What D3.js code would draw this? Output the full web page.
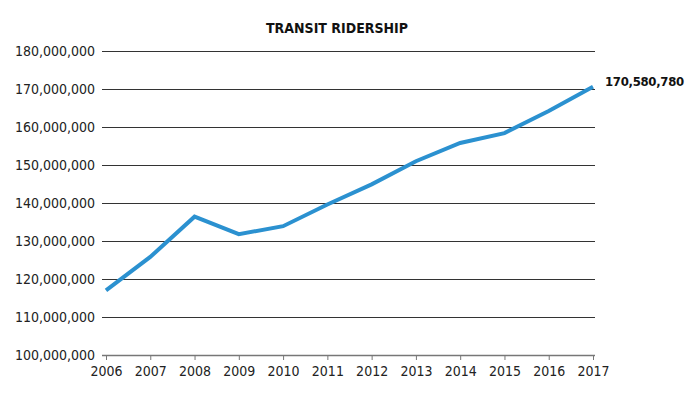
<!DOCTYPE html>
<html><head><meta charset="utf-8">
<script src="https://cdn.jsdelivr.net/npm/d3@7"></script>
<style>body{margin:0;background:#fff}svg{display:block}</style>
</head><body>
<script>
const years = [2006,2007,2008,2009,2010,2011,2012,2013,2014,2015,2016,2017];
const ridership = [117000000,125800000,136400000,131800000,133900000,139600000,144900000,151000000,155800000,158400000,164200000,170580780];
const yTicks = [100000000,110000000,120000000,130000000,140000000,150000000,160000000,170000000,180000000];
const title = "TRANSIT RIDERSHIP";
const endLabel = "170,580,780";

const W=692,H=394;
const font = "'DejaVu Sans Condensed','Liberation Sans Narrow',sans-serif";
const svg=d3.select("body").append("svg").attr("width",W).attr("height",H);
const x=d3.scaleLinear().domain([2006,2017]).range([106,593]);
const y=d3.scaleLinear().domain([100000000,180000000]).range([355,51]);
const fmt=d3.format(",");

svg.append("text").attr("x",337).attr("y",33).attr("text-anchor","middle")
  .attr("font-family",font).attr("font-weight","bold").attr("font-size",14).attr("fill","#111").text(title);

// grid
svg.append("g").selectAll("line").data(yTicks).join("line")
  .attr("x1",102).attr("x2",595)
  .attr("y1",d=>Math.round(y(d))+0.5).attr("y2",d=>Math.round(y(d))+0.5)
  .attr("stroke",d=>d===100000000?"#777":"#333").attr("stroke-width",d=>d===100000000?1.5:1);

svg.append("g").selectAll("text").data(yTicks).join("text")
  .attr("x",95).attr("y",d=>y(d)+5).attr("text-anchor","end")
  .attr("font-family",font).attr("font-size",14).attr("fill","#222").text(d=>fmt(d));

// x axis ticks
const xa=svg.append("g").attr("transform","translate(0,355)")
  .call(d3.axisBottom(x).tickValues(years).tickFormat(d3.format("d")).tickSize(5).tickPadding(6));
xa.select(".domain").remove();
xa.selectAll(".tick line").attr("stroke","#777");
xa.selectAll(".tick text").attr("font-family",font).attr("font-size",14).attr("fill","#222");

// line
const line=d3.line().x((d,i)=>x(years[i])).y(d=>y(d));
svg.append("path").datum(ridership).attr("d",line).attr("fill","none")
  .attr("stroke","#2b91d0").attr("stroke-width",4).attr("stroke-linejoin","miter");

svg.append("text").attr("x",605).attr("y",y(ridership[11])-1)
  .attr("font-family",font).attr("font-weight","bold").attr("font-size",13).attr("letter-spacing",-0.3).attr("fill","#111").text(endLabel);
</script>
</body></html>
